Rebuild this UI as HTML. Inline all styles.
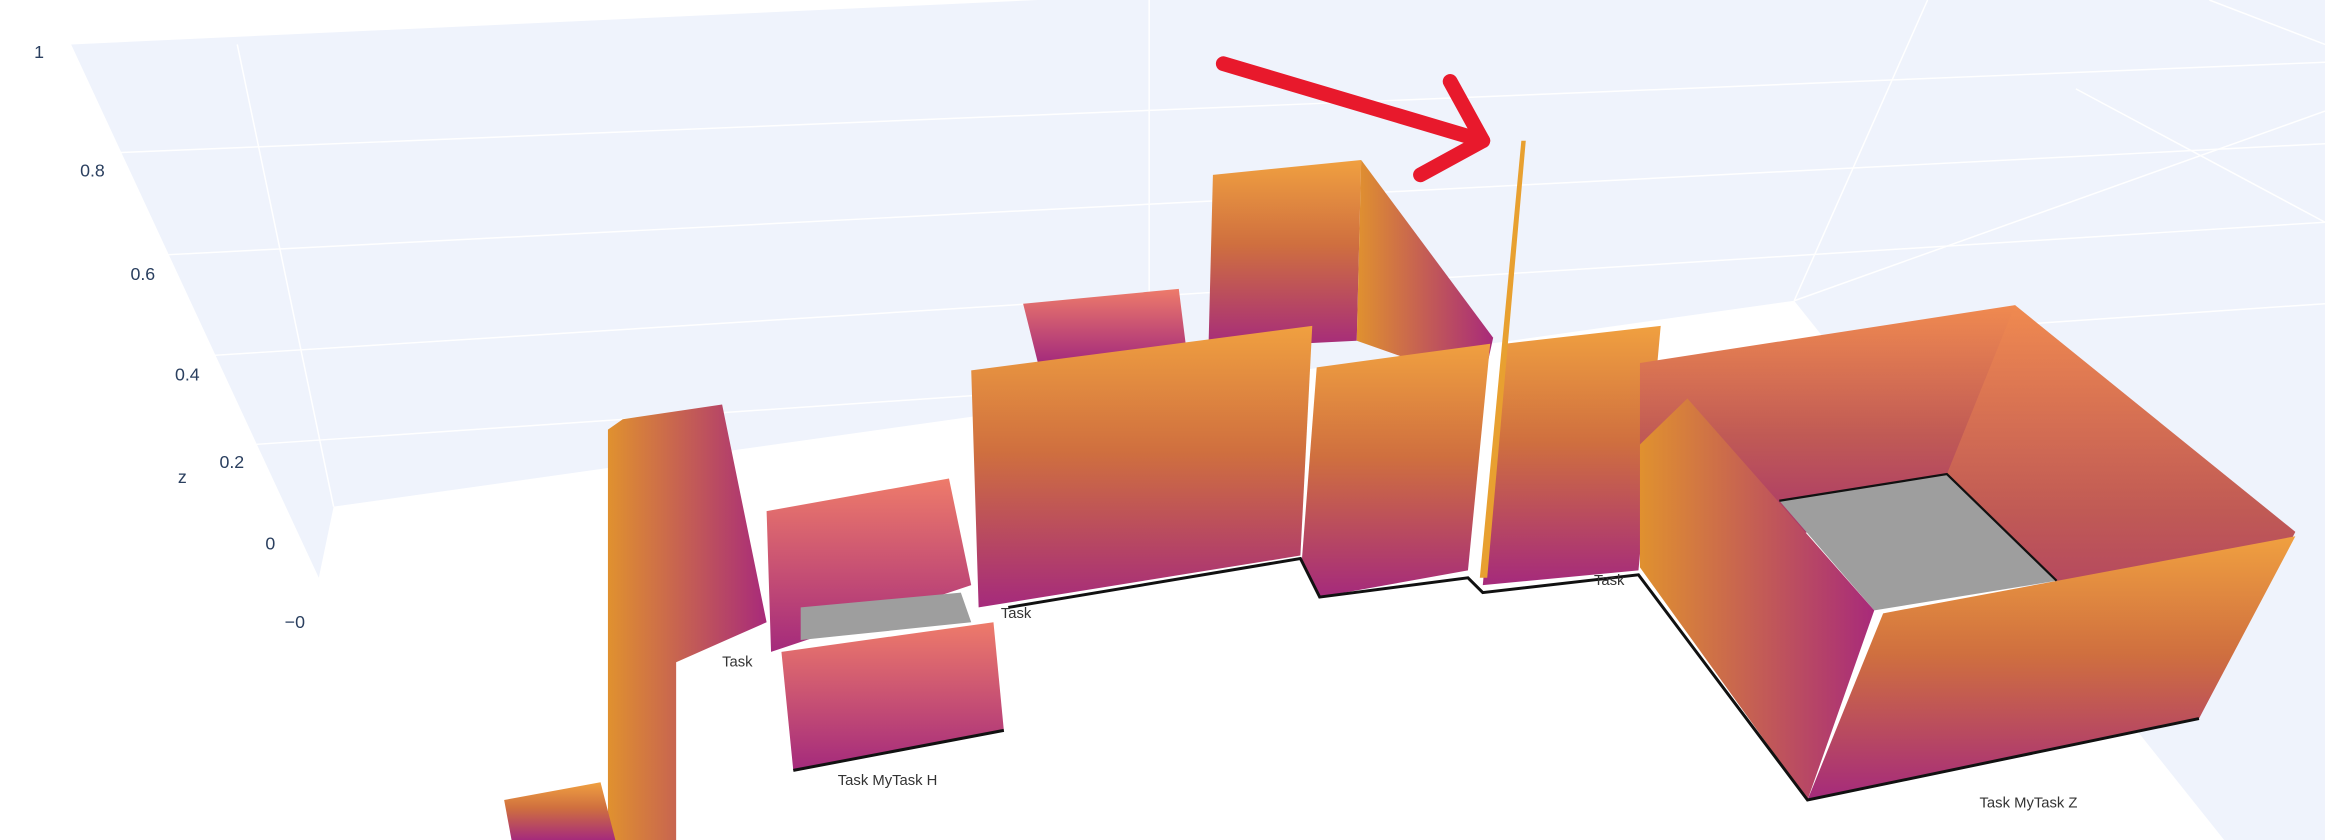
<!DOCTYPE html>
<html><head><meta charset="utf-8"><style>
html,body{margin:0;padding:0;background:#fff;}
svg{display:block;font-family:"Liberation Sans",sans-serif;}
</style></head><body>
<svg width="2325" height="840" viewBox="0 0 1568 567" preserveAspectRatio="none" xmlns="http://www.w3.org/2000/svg">
<defs>
<linearGradient id="g" x1="0" y1="0" x2="0" y2="1">
<stop offset="0" stop-color="#f0a040"/><stop offset="0.45" stop-color="#cf6f3f"/><stop offset="1" stop-color="#a52a7c"/></linearGradient>
<linearGradient id="gh" x1="0" y1="0" x2="1" y2="0">
<stop offset="0" stop-color="#e0912f"/><stop offset="1" stop-color="#a82a7a"/></linearGradient>
<linearGradient id="gp" x1="0" y1="0" x2="0" y2="1">
<stop offset="0" stop-color="#ee7b6a"/><stop offset="1" stop-color="#a42a7c"/></linearGradient>
<linearGradient id="gb" x1="0" y1="0" x2="0" y2="1">
<stop offset="0" stop-color="#f08a50"/><stop offset="0.5" stop-color="#c05a55"/><stop offset="1" stop-color="#a22a72"/></linearGradient>
</defs>
<polygon fill="#eff3fc" points="48,30 700,0 1568,0 1568,567 1500,567 1210,203 225,342 215,390"/>
<g stroke="#fff" stroke-width="1" fill="none">
<line x1="80" y1="103" x2="1568" y2="42"/><line x1="112" y1="172" x2="1568" y2="97"/><line x1="142" y1="240" x2="1568" y2="150"/><line x1="172" y1="300" x2="1568" y2="205"/>
<line x1="160" y1="30" x2="225" y2="342"/><line x1="775" y1="0" x2="775" y2="270"/><line x1="1300" y1="0" x2="1210" y2="203"/><line x1="1568" y1="75" x2="1210" y2="203"/>
<line x1="1490" y1="0" x2="1568" y2="30"/><line x1="1400" y1="60" x2="1568" y2="150"/>
</g>
<g font-size="12" fill="#2a3f5f">
<text x="23" y="39">1</text>
<text x="54" y="119">0.8</text>
<text x="88" y="189">0.6</text>
<text x="118" y="257">0.4</text>
<text x="148" y="316">0.2</text>
<text x="179" y="371">0</text>
<text x="192" y="424">−0</text>
</g>
<text x="120" y="326" font-size="12" fill="#2a3f5f">z</text>
<g>
<polygon fill="url(#gh)" points="410,290 420,283 487,273 517,420 456,447 456,567 410,567"/>
<polygon fill="url(#g)" points="340,540 405,528 415,567 345,567"/>
<polygon fill="url(#gp)" points="517,345 640,323 655,395 520,440"/>
<polygon fill="#9e9e9e" points="540,410 648,400 655,420 540,432"/>
<polygon fill="url(#gp)" points="527,440 670,420 677,493 535,520"/>
<polygon fill="url(#gp)" points="690,205 795,195 800,235 700,245"/>
<polygon fill="url(#g)" points="818,118 918,108 915,230 815,235"/>
<polygon fill="url(#gh)" points="918,108 1007,228 1000,260 915,230"/>
<polygon fill="url(#g)" points="655,250 885,220 877,375 660,410"/>
<polygon fill="url(#g)" points="888,248 1005,232 990,385 890,403 878,378"/>
<polygon fill="url(#g)" points="1015,232 1120,220 1105,385 1000,395"/>
<polygon fill="url(#gb)" points="1106,245 1359,206 1359,330 1106,383"/>
<polygon fill="url(#gb)" points="1359,206 1548,359 1483,485 1387,392 1313,320"/>
<polygon fill="#9e9e9e" points="1200,338 1313,320 1387,392 1264,412"/>
<polygon fill="url(#gh)" points="1138,269 1264,412 1219,540 1106,383 1106,300"/>
<polygon fill="url(#g)" points="1270,414 1548,362 1483,485 1219,540"/>
<polygon fill="#e8a030" points="1026,95 1029,95 1003,390 998,390"/>
</g>
<polyline fill="none" stroke="#111" stroke-width="2" points="680,410 877,377 890,403 990,390 1000,400 1105,388 1219,540 1483,485"/>
<polyline fill="none" stroke="#111" stroke-width="2" points="535,520 677,493"/>
<polyline fill="none" stroke="#111" stroke-width="1.5" points="1200,338 1313,320 1387,392"/>
<g stroke="#e8192c" stroke-width="10" stroke-linecap="round" stroke-linejoin="round" fill="none">
<line x1="825" y1="43" x2="1000" y2="95"/><polyline points="978,55 1000,95 958,118"/>
</g>
<g font-size="10" fill="#333">
<text x="487" y="450">Task</text><text x="675" y="417">Task</text><text x="1075" y="395">Task</text>
<text x="565" y="530">Task MyTask H</text><text x="1335" y="545">Task MyTask Z</text>
</g>
<script>
var zTickLabels=["1","0.8","0.6","0.4","0.2","0","−0"];
var zTickValues=[1,0.8,0.6,0.4,0.2,0,-0.15];
</script>
</svg>
</body></html>
